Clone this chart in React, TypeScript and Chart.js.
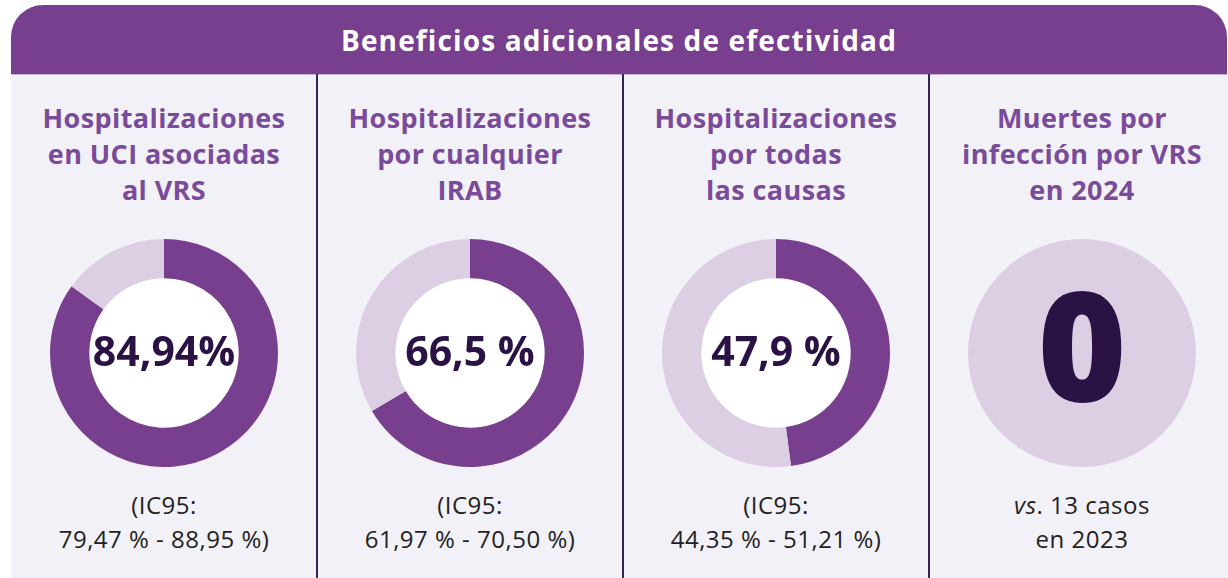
import React, { useEffect, useRef } from "react";
import { Chart, registerables } from "chart.js";

Chart.register(...registerables);

const headerTitle = "Beneficios adicionales de efectividad";
const panelTitles: string[][] = [
  ["Hospitalizaciones", "en UCI asociadas", "al VRS"],
  ["Hospitalizaciones", "por cualquier", "IRAB"],
  ["Hospitalizaciones", "por todas", "las causas"],
  ["Muertes por", "infección por VRS", "en 2024"],
];
const effectiveness = [84.94, 66.5, 47.9];
const centerLabels = ["84,94%", "66,5 %", "47,9 %"];
const ciLines: string[][] = [
  ["(IC95:", "79,47 % - 88,95 %)"],
  ["(IC95:", "61,97 % - 70,50 %)"],
  ["(IC95:", "44,35 % - 51,21 %)"],
];
const deathsLabels = ["2024", "2023"];
const deathsValues = [0, 13];
const deathsCenter = "0";

const DARK = "#783f8e";
const LIGHT = "#dccfe4";
const BG = "#f3f1f8";
const INK = "#2a1245";
const HEAD = "#7a4a9b";
const FONT = "'Open Sans', sans-serif";

const PANEL_X = [11, 317, 623, 929];
const PANEL_W = 306;
const CY = 352.5;
const R = 114;

function Donut({ values, colors, label, labelSize, labelWeight, labelDy, cutout }: { values: number[]; colors: string[]; label: string; labelSize: number; labelWeight: number; labelDy: number; cutout: string }) {
  const ref = useRef<HTMLCanvasElement>(null);
  useEffect(() => {
    if (!ref.current) return;
    const centerPlugin = {
      id: "center",
      beforeDatasetsDraw(chart: any) {
        const arc = chart.getDatasetMeta(0).data[0] as any;
        if (!arc || !arc.innerRadius) return;
        const ctx = chart.ctx;
        ctx.save();
        ctx.beginPath();
        ctx.arc(arc.x, arc.y, arc.innerRadius + 0.5, 0, Math.PI * 2);
        ctx.fillStyle = "#ffffff";
        ctx.fill();
        ctx.restore();
      },
      afterDraw(chart: any) {
        const arc = chart.getDatasetMeta(0).data[0] as any;
        const ctx = chart.ctx;
        ctx.save();
        ctx.fillStyle = INK;
        ctx.font = `${labelWeight} ${labelSize}px ${FONT}`;
        ctx.textAlign = "center";
        ctx.textBaseline = "middle";
        ctx.fillText(label, arc.x, arc.y + labelDy);
        ctx.restore();
      },
    };
    const chart = new Chart(ref.current, {
      type: "doughnut",
      data: {
        labels: values.map((_, i) => String(i)),
        datasets: [{ data: values, backgroundColor: colors, borderWidth: 0 }],
      },
      options: {
        responsive: false,
        animation: false,
        cutout,
        layout: { padding: 0 },
        plugins: { legend: { display: false }, tooltip: { enabled: false } },
      },
      plugins: [centerPlugin],
    });
    return () => chart.destroy();
  }, []);
  return <canvas ref={ref} width={R * 2} height={R * 2} style={{ width: R * 2, height: R * 2 }} />;
}

export default function App() {
  const textBlock = (lines: React.ReactNode[], top: number, lh: number, style: React.CSSProperties, x: number) => (
    <div style={{ position: "absolute", left: x, top, width: PANEL_W, textAlign: "center", lineHeight: `${lh}px`, whiteSpace: "nowrap", ...style }}>
      {lines.map((l, i) => (
        <div key={i}>{l}</div>
      ))}
    </div>
  );
  return (
    <div style={{ position: "fixed", left: 0, top: 0, width: 1228, height: 578, background: "#fff", overflow: "hidden", fontFamily: FONT }}>
      <div style={{ position: "absolute", left: 11, top: 75, width: 1230, height: 510, background: BG }} />
      <div style={{ position: "absolute", left: 11, top: 5, width: 1216, height: 69, background: DARK, borderTopLeftRadius: 32, borderTopRightRadius: 32 }} />
      <div style={{ position: "absolute", left: 11, top: 74, width: 1217, height: 1, background: "#c7b3d6" }} />
      <div style={{ position: "absolute", left: 11, top: 5, width: 1216, height: 69, display: "flex", alignItems: "center", justifyContent: "center", color: "#fff", fontWeight: 700, fontSize: 28, letterSpacing: 1.15 }}>
        {headerTitle}
      </div>
      {[317, 623, 929].map((x) => (
        <div key={x} style={{ position: "absolute", left: x - 1, top: 74, width: 2, height: 510, background: "#3a2352" }} />
      ))}
      {panelTitles.map((lines, i) =>
        <React.Fragment key={i}>{textBlock(lines, 100, 36, { color: HEAD, fontWeight: 700, fontSize: 27, letterSpacing: 0.4 }, PANEL_X[i])}</React.Fragment>
      )}
      {effectiveness.map((v, i) => (
        <div key={i} style={{ position: "absolute", left: PANEL_X[i] + PANEL_W / 2 - R, top: CY - R }}>
          <Donut values={[v, 100 - v]} colors={[DARK, LIGHT]} label={centerLabels[i]} labelSize={41} labelWeight={700} labelDy={1} cutout="65.5%" />
        </div>
      ))}
      <div style={{ position: "absolute", left: PANEL_X[3] + PANEL_W / 2 - R, top: CY - R }}>
        <Donut values={deathsValues} colors={[DARK, LIGHT]} label={deathsCenter} labelSize={152} labelWeight={800} labelDy={6} cutout="0%" />
      </div>
      {ciLines.map((lines, i) =>
        <React.Fragment key={i}>{textBlock(lines, 488, 34, { color: "#222", fontSize: 24, letterSpacing: 0.5 }, PANEL_X[i])}</React.Fragment>
      )}
      {textBlock([<span><i>vs</i>. 13 casos</span>, "en 2023"], 488, 34, { color: "#222", fontSize: 24, letterSpacing: 0.5 }, PANEL_X[3])}
    </div>
  );
}
